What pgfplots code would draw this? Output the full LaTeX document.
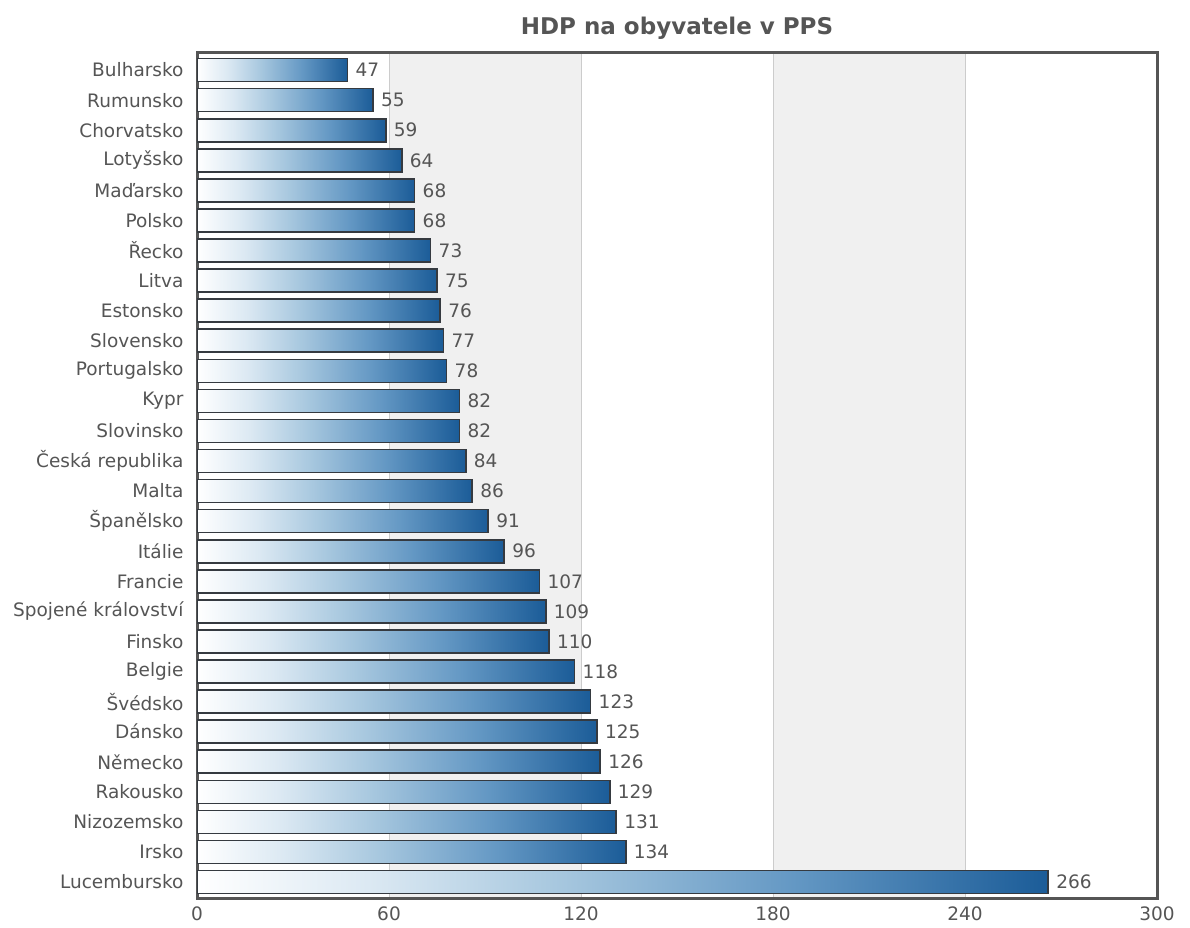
\documentclass[border=0pt]{standalone}
\usepackage{pgfplots}
\usepackage{pgfplotstable}
\pgfplotsset{compat=1.18}
\usepackage{fontspec}
\setmainfont{DejaVu Sans}

\definecolor{txt}{HTML}{555555}
\definecolor{framec}{HTML}{555555}
\definecolor{band}{HTML}{F0F0F0}
\definecolor{gridc}{HTML}{CCCCCC}
\definecolor{edge}{HTML}{353A40}
\definecolor{b1}{HTML}{DCE9F3}
\definecolor{b2}{HTML}{A8C8DF}
\definecolor{b3}{HTML}{6498C4}
\definecolor{b4}{HTML}{1B5C98}

% left-to-right fill of each bar: white into deep blue
\pgfdeclarehorizontalshading{barshade}{100bp}{
  color(0bp)=(white); color(25bp)=(white); color(35bp)=(b1);
  color(46bp)=(b2); color(60bp)=(b3); color(75bp)=(b4); color(100bp)=(b4)}

\pgfplotstableread{
idx value
0 47
1 55
2 59
3 64
4 68
5 68
6 73
7 75
8 76
9 77
10 78
11 82
12 82
13 84
14 86
15 91
16 96
17 107
18 109
19 110
20 118
21 123
22 125
23 126
24 129
25 131
26 134
27 266
}\gdp

\begin{document}
\begin{tikzpicture}
\node[font=\bfseries\fontsize{23}{27}\selectfont, text=txt] at (677pt,-28pt) {HDP na obyvatele v PPS};
\begin{axis}[
  set layers,
  at={(197pt,-898pt)}, anchor=south west,
  width=960pt, height=846pt, scale only axis,
  xbar, bar width=23pt, bar shift=0pt,
  xmin=0, xmax=300, ymin=-0.6, ymax=27.53, y dir=reverse,
  xtick={0,60,...,300},
  ytick={0,...,27},
  yticklabels={Bulharsko,Rumunsko,Chorvatsko,Lotyšsko,Maďarsko,Polsko,Řecko,Litva,Estonsko,Slovensko,Portugalsko,Kypr,Slovinsko,Česká republika,Malta,Španělsko,Itálie,Francie,Spojené království,Finsko,Belgie,Švédsko,Dánsko,Německo,Rakousko,Nizozemsko,Irsko,Lucembursko},
  major tick length=0,
  axis line style={draw=framec, line width=3pt},
  xmajorgrids=true,
  major grid style={draw=gridc, line width=1pt},
  /pgf/number format/assume math mode=true,
  tick label style={font=\fontsize{18.5}{22}\selectfont, text=txt},
  xticklabel style={yshift=-5pt},
  yticklabel style={xshift=-10pt},
  nodes near coords,
  point meta=x,
  every node near coord/.append style={font=\fontsize{18.5}{22}\selectfont, text=txt, xshift=4pt},
]
\begin{pgfonlayer}{axis background}
  \fill[band] (axis cs:60,-0.6) rectangle (axis cs:120,27.53);
  \fill[band] (axis cs:180,-0.6) rectangle (axis cs:240,27.53);
\end{pgfonlayer}
% one path per bar, so the shading runs along each bar on its own
\pgfplotsinvokeforeach{0,...,27}{
  \addplot[draw=edge, line width=1.6pt, shading=barshade,
    restrict y to domain=#1:#1] table[x=value, y=idx] {\gdp};
}
\end{axis}
\path (0,0) rectangle (1190pt,-927pt);
\end{tikzpicture}
\end{document}
